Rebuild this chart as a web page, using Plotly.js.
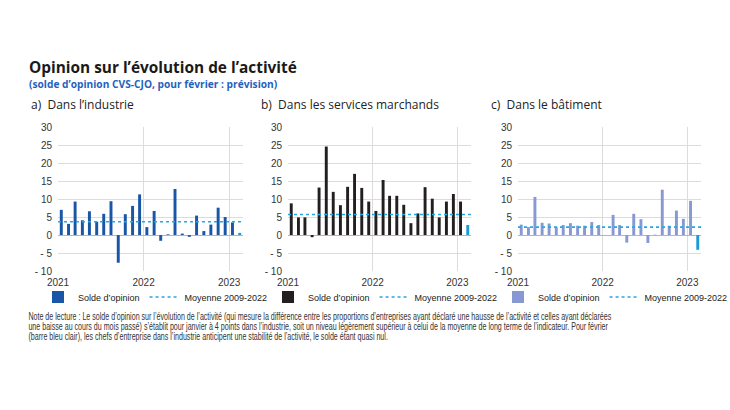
<!DOCTYPE html>
<html>
<head>
<meta charset="utf-8">
<script src="https://cdn.plot.ly/plotly-3.0.1.min.js"></script>
<style>html,body{margin:0;padding:0;background:#fff;}#chart{width:730px;height:410px;}</style>
</head>
<body>
<div id="chart"></div>
<script>
// ---- Data ----
const months = ['2021-01','2021-02','2021-03','2021-04','2021-05','2021-06','2021-07','2021-08','2021-09','2021-10','2021-11','2021-12',
                '2022-01','2022-02','2022-03','2022-04','2022-05','2022-06','2022-07','2022-08','2022-09','2022-10','2022-11','2022-12',
                '2023-01','2023-02'];
const industrie = [7.0,3.1,9.3,4.1,6.6,3.7,5.9,9.4,-7.7,5.8,8.1,11.3, 2.2,6.7,-1.6,0.2,12.8,0.4,-0.5,5.4,1.1,2.9,7.6,5.0, 3.5,0.6];
const services  = [8.8,4.9,4.9,-0.6,13.2,24.6,12.0,8.3,13.4,17.0,13.1,9.3, 6.7,15.3,10.9,10.9,8.4,3.3,6.0,13.3,10.1,4.9,9.3,11.4, 9.3,2.8];
const batiment  = [2.9,2.2,10.6,3.4,3.2,2.2,2.8,3.3,2.6,2.6,3.6,2.8, 0.0,5.6,2.8,-2.1,5.9,4.4,-2.2,0.1,12.6,2.6,6.8,4.5, 9.5,-4.1];
const moyenneIndustrie = 3.7;
const moyenneServices = 5.7;
const moyenneBatiment = 2.2;
const yTickVals = [-10,-5,0,5,10,15,20,25,30];
const yTickText = ['- 10','- 5','0','5','10','15','20','25','30'];
const yGridVals = [-5,5,10,15,20,25,30];
const xTickVals = ['2021-01-01','2022-01-01','2023-01-01'];
const xTickText = ['2021','2022','2023'];
const xGridVals = ['2022-01-01','2023-01-01'];
const xRange = ['2021-01-01','2023-03-01'];
const panelTitles = ['a)  Dans l’industrie','b)  Dans les services marchands','c)  Dans le bâtiment'];
const legendBar = 'Solde d’opinion';
const legendMean = 'Moyenne 2009-2022';
const noteLines = [
  'Note de lecture : Le solde d’opinion sur l’évolution de l’activité (qui mesure la différence entre les proportions d’entreprises ayant déclaré une hausse de l’activité et celles ayant déclarées',
  'une baisse au cours du mois passé) s’établit pour janvier à 4 points dans l’industrie, soit un niveau légèrement supérieur à celui de la moyenne de long terme de l’indicateur. Pour février',
  '(barre bleu clair), les chefs d’entreprise dans l’industrie anticipent une stabilité de l’activité, le solde étant quasi nul.'
];

// ---- Styles ----
const colBar = ['#1a56a6','#231f20','#8798d2'];
const colForecast = '#1b9ad7';
const colMean = '#2aa6de';
const sans = '"Liberation Sans", Arial, sans-serif';
const titleFont = '"Open Sans", "Noto Sans", sans-serif';

const xDates = months.map(m => m + '-15');
const series = [industrie, services, batiment];
const means = [moyenneIndustrie, moyenneServices, moyenneBatiment];
const domains = [[58/730, 243/730],[288/730, 471/730],[518/730, 701/730]];
const legendX = [38/730, 268/730, 498/730];
const titleX = [29/730, 259/730, 489/730];

const traces = [];
const layout = {
  width: 730, height: 410,
  margin: {l:0, r:0, t:0, b:0, autoexpand: false},
  paper_bgcolor: '#fff', plot_bgcolor: '#fff',
  showlegend: true,
  bargap: 0.55,
  annotations: [], font: {family: sans, color: '#333'}
};

series.forEach((vals, i) => {
  const sfx = i === 0 ? '' : String(i + 1);
  const lg = 'legend' + sfx;
  const colors = vals.map((v, k) => k === vals.length - 1 ? colForecast : colBar[i]);
  traces.push({
    type: 'bar', x: xDates, y: vals, name: legendBar,
    xaxis: 'x' + sfx, yaxis: 'y' + sfx, legend: lg,
    marker: {color: colors, line: {width: 0}}
  });
  traces.push({
    type: 'scatter', mode: 'lines', x: xRange, y: [means[i], means[i]], name: legendMean,
    xaxis: 'x' + sfx, yaxis: 'y' + sfx, legend: lg,
    line: {color: colMean, width: 1.6, dash: 'dot'}
  });
  layout['xaxis' + sfx] = {
    domain: domains[i], anchor: 'y' + sfx, type: 'date', range: xRange,
    tickmode: 'array', tickvals: xTickVals, ticktext: xTickText, showgrid: false,
    minor: {tickmode: 'array', tickvals: xGridVals, showgrid: true, gridcolor: '#dcdcdc', gridwidth: 1, ticks: ''},
    zeroline: false, showline: false, ticks: '', ticklabelstandoff: 4, fixedrange: true,
    tickfont: {family: sans, size: 10, color: '#333'}
  };
  layout['yaxis' + sfx] = {
    domain: [0.339, 0.690], anchor: 'x' + sfx, range: [-10, 30],
    tickmode: 'array', tickvals: yTickVals, ticktext: yTickText, showgrid: false,
    minor: {tickmode: 'array', tickvals: yGridVals, showgrid: true, gridcolor: '#dcdcdc', gridwidth: 1, ticks: ''},
    zeroline: true, zerolinecolor: '#b5b5b5', zerolinewidth: 1, showline: false, ticks: '',
    ticklabelstandoff: 5, fixedrange: true,
    tickfont: {family: sans, size: 10, color: '#333'}
  };
  layout[lg] = {
    orientation: 'h', x: legendX[i], xanchor: 'left', y: 1 - 297/410, yanchor: 'middle',
    font: {family: sans, size: 9, color: '#222'}, bgcolor: 'rgba(0,0,0,0)',
    traceorder: 'normal', itemwidth: 30
  };
  layout.annotations.push({
    xref: 'paper', yref: 'paper', x: titleX[i], y: 1 - 104/410,
    xanchor: 'left', yanchor: 'middle', showarrow: false, text: panelTitles[i],
    font: {family: titleFont, size: 12, color: '#222'}
  });
});

layout.annotations.push({
  xref: 'paper', yref: 'paper', x: 27/730, y: 1 - 67/410, xanchor: 'left', yanchor: 'middle',
  showarrow: false, text: '<b>Opinion sur l’évolution de l’activité</b>',
  font: {family: titleFont, size: 15.4, color: '#1a1a1a'}
});
layout.annotations.push({
  xref: 'paper', yref: 'paper', x: 27/730, y: 1 - 84/410, xanchor: 'left', yanchor: 'middle',
  showarrow: false, text: '<b>(solde d’opinion CVS-CJO, pour février : prévision)</b>',
  font: {family: titleFont, size: 10.2, color: '#1f62bd'}
});
noteLines.forEach((line, k) => {
  layout.annotations.push({
    xref: 'paper', yref: 'paper', x: 27/730, y: 1 - (316 + 10*k)/410, xanchor: 'left', yanchor: 'middle',
    showarrow: false, align: 'left', text: line,
    font: {family: sans, size: 10, color: '#333'}
  });
});

Plotly.newPlot('chart', traces, layout, {displayModeBar: false, staticPlot: true}).then(gd => {
  // condense the reading note horizontally, like the narrow typeface of the original
  const nodes = Array.from(gd.querySelectorAll('.annotation-text'));
  const noteNodes = nodes.filter(n => noteLines.includes(n.textContent));
  const first = noteNodes.find(n => n.textContent === noteLines[0]);
  if (!first) return;
  const s = 584 / first.getComputedTextLength();
  noteNodes.forEach(n => {
    n.setAttribute('transform', 'scale(' + s.toFixed(4) + ',1)');
    const bg = n.parentNode.querySelector('rect.bg');
    if (bg) bg.setAttribute('width', (parseFloat(bg.getAttribute('width')) * s).toFixed(1));
  });
});
</script>
</body>
</html>
